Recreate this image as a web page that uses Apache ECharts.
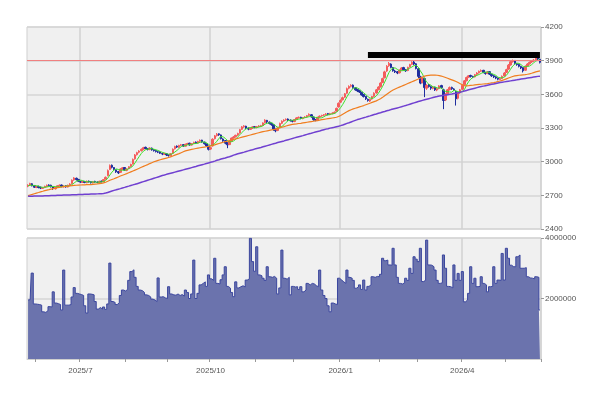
<!DOCTYPE html>
<html>
<head>
<meta charset="utf-8">
<script src="https://cdn.jsdelivr.net/npm/echarts@6/dist/echarts.min.js"></script>
<style>
  html, body { margin: 0; padding: 0; background: #fff; }
  #chart { width: 600px; height: 401px; }
</style>
</head>
<body>
<div id="chart"></div>
<script>
// trading calendar (Tokyo market days)
var firstDay = '2025-05-27';
var lastDay = '2026-05-28';
var holidays = ['2025-07-21', '2025-08-11', '2025-09-15', '2025-09-23', '2025-10-13',
  '2025-11-03', '2025-11-24', '2025-12-31', '2026-01-01', '2026-01-02', '2026-01-12',
  '2026-02-11', '2026-02-23', '2026-03-20', '2026-04-29', '2026-05-04', '2026-05-05', '2026-05-06'];

var dates = [];
for (var t = Date.parse(firstDay); t <= Date.parse(lastDay); t += 86400000) {
  var d = new Date(t);
  var iso = d.toISOString().slice(0, 10);
  if (d.getUTCDay() === 0 || d.getUTCDay() === 6 || holidays.indexOf(iso) >= 0) continue;
  dates.push(d.getUTCFullYear() + '/' + (d.getUTCMonth() + 1) + '/' + d.getUTCDate());
}

// daily candles: [open, close, low, high]
var ohlc = [
  [2782,2790,2772,2798],[2790,2805,2785,2812],[2803,2785,2780,2808],[2788,2772,2766,2792],[2770,2778,2764,2784],
  [2780,2770,2762,2786],[2772,2765,2756,2778],[2762,2768,2758,2775],[2770,2780,2764,2786],[2778,2790,2772,2796],
  // 10
  [2792,2788,2780,2798],[2790,2775,2770,2795],[2776,2760,2748,2780],[2758,2772,2752,2778],[2774,2785,2768,2790],
  [2786,2790,2779,2797],[2792,2778,2772,2796],[2776,2782,2770,2789],[2785,2775,2768,2790],[2774,2790,2770,2795],
  // 20
  [2792,2800,2785,2808],[2805,2835,2800,2842],[2838,2855,2830,2862],[2852,2840,2832,2858],[2842,2825,2818,2846],
  [2822,2818,2810,2830],[2815,2822,2810,2828],[2824,2815,2808,2828],[2812,2825,2808,2832],[2826,2820,2814,2832],
  // 30
  [2822,2812,2805,2826],[2810,2822,2806,2828],[2824,2818,2812,2830],[2816,2815,2808,2824],[2814,2825,2810,2830],
  [2826,2822,2815,2832],[2820,2840,2817,2845],[2845,2860,2840,2868],[2875,2920,2870,2930],[2930,2965,2925,2975],
  // 40
  [2968,2950,2940,2975],[2948,2930,2922,2952],[2928,2910,2900,2932],[2912,2900,2890,2918],[2905,2935,2900,2942],
  [2932,2945,2926,2952],[2948,2925,2918,2950],[2922,2935,2915,2940],[2938,2955,2932,2960],[2958,2975,2950,2982],
  // 50
  [2980,3020,2975,3028],[3025,3060,3018,3068],[3062,3080,3055,3088],[3085,3095,3075,3102],[3098,3110,3090,3118],
  [3112,3125,3105,3132],[3128,3118,3110,3134],[3116,3110,3100,3122],[3108,3122,3102,3128],[3120,3105,3098,3126],
  // 60
  [3106,3098,3090,3112],[3100,3090,3082,3105],[3088,3085,3076,3095],[3086,3075,3068,3092],[3072,3068,3058,3080],
  [3066,3072,3060,3078],[3070,3060,3050,3076],[3058,3055,3045,3064],[3052,3070,3048,3076],[3075,3110,3070,3118],
  // 70
  [3115,3135,3108,3142],[3138,3130,3122,3145],[3128,3145,3122,3150],[3146,3150,3138,3158],[3152,3140,3132,3156],
  [3138,3155,3135,3160],[3156,3162,3148,3168],[3165,3150,3142,3168],[3148,3160,3144,3166],[3162,3172,3156,3178],
  // 80
  [3174,3165,3158,3180],[3166,3180,3160,3186],[3182,3190,3175,3198],[3192,3175,3168,3195],[3174,3160,3152,3178],
  [3158,3140,3132,3162],[3138,3110,3100,3142],[3112,3125,3105,3132],[3140,3200,3135,3208],[3205,3230,3198,3238],
  // 90
  [3232,3245,3225,3255],[3248,3240,3230,3252],[3238,3205,3198,3242],[3202,3185,3178,3208],[3188,3165,3155,3190],
  [3168,3150,3120,3172],[3152,3180,3148,3186],[3182,3210,3176,3215],[3212,3220,3205,3228],[3222,3235,3215,3240],
  // 100
  [3238,3250,3230,3258],[3255,3285,3250,3292],[3288,3310,3282,3318],[3312,3318,3302,3325],[3316,3300,3292,3320],
  [3298,3290,3280,3305],[3288,3298,3282,3305],[3300,3310,3292,3316],[3312,3305,3298,3318],[3304,3312,3298,3318],
  // 110
  [3314,3318,3306,3325],[3316,3320,3310,3328],[3322,3345,3318,3350],[3348,3370,3340,3378],[3368,3355,3345,3372],
  [3352,3340,3332,3358],[3342,3330,3320,3346],[3328,3290,3275,3332],[3288,3275,3262,3295],[3278,3300,3272,3306],
  // 120
  [3305,3340,3300,3348],[3342,3360,3335,3368],[3362,3370,3355,3378],[3372,3378,3365,3385],[3380,3372,3362,3385],
  [3370,3365,3358,3376],[3362,3360,3350,3370],[3358,3375,3352,3380],[3378,3390,3372,3396],[3392,3395,3385,3402],
  // 130
  [3396,3385,3378,3400],[3384,3392,3378,3398],[3395,3398,3388,3405],[3400,3410,3394,3416],[3412,3422,3405,3430],
  [3418,3400,3392,3424],[3398,3375,3365,3402],[3372,3370,3360,3380],[3372,3395,3368,3400],[3398,3405,3390,3412],
  // 140
  [3408,3412,3400,3418],[3414,3418,3406,3424],[3420,3425,3412,3432],[3428,3422,3414,3434],[3420,3428,3414,3435],
  [3430,3432,3422,3440],[3435,3440,3426,3448],[3450,3475,3445,3482],[3488,3520,3482,3528],[3530,3545,3522,3555],
  // 150
  [3552,3570,3545,3580],[3575,3605,3568,3612],[3610,3650,3605,3660],[3655,3670,3645,3680],[3672,3680,3662,3690],
  [3682,3660,3650,3688],[3658,3640,3632,3665],[3642,3630,3620,3648],[3632,3620,3612,3638],[3618,3595,3588,3622],
  // 160
  [3598,3580,3572,3604],[3582,3560,3550,3586],[3556,3545,3535,3562],[3540,3555,3532,3562],[3558,3580,3552,3586],
  [3582,3610,3576,3618],[3612,3640,3606,3648],[3642,3665,3636,3672],[3668,3700,3660,3708],[3705,3740,3700,3748],
  // 170
  [3748,3800,3742,3810],[3808,3850,3800,3860],[3855,3875,3845,3888],[3870,3840,3832,3876],[3838,3810,3802,3844],
  [3808,3800,3790,3818],[3802,3790,3780,3808],[3792,3815,3786,3822],[3818,3835,3810,3842],[3838,3820,3812,3845],
  // 180
  [3818,3810,3800,3826],[3812,3840,3806,3846],[3845,3865,3840,3872],[3868,3885,3860,3895],[3888,3870,3860,3898],
  [3872,3830,3822,3878],[3828,3760,3745,3834],[3755,3700,3690,3765],[3705,3745,3698,3752],[3740,3660,3575,3748],
  // 190
  [3655,3680,3640,3690],[3682,3670,3660,3692],[3668,3655,3640,3678],[3652,3665,3645,3675],[3662,3640,3630,3668],
  [3638,3650,3628,3660],[3652,3675,3645,3682],[3678,3660,3650,3685],[3640,3545,3468,3650],[3550,3600,3540,3610],
  // 200
  [3605,3640,3598,3648],[3642,3660,3635,3670],[3662,3650,3640,3668],[3648,3640,3628,3655],[3625,3560,3500,3632],
  [3565,3610,3555,3618],[3612,3640,3605,3648],[3645,3680,3638,3688],[3685,3720,3678,3728],[3722,3750,3715,3758],
  // 210
  [3752,3765,3745,3772],[3768,3760,3750,3775],[3758,3755,3745,3766],[3756,3775,3750,3782],[3778,3790,3770,3798],
  [3792,3805,3785,3812],[3806,3812,3798,3822],[3814,3795,3788,3818],[3792,3785,3775,3800],[3786,3800,3780,3808],
  // 220
  [3802,3780,3772,3806],[3778,3765,3755,3784],[3766,3755,3745,3772],[3756,3745,3735,3762],[3744,3735,3725,3750],
  [3732,3740,3726,3748],[3742,3760,3736,3768],[3764,3790,3758,3798],[3795,3820,3790,3828],[3825,3860,3818,3870],
  // 230
  [3862,3890,3855,3900],[3892,3900,3882,3910],[3902,3875,3865,3906],[3872,3865,3855,3880],[3866,3850,3840,3872],
  [3848,3835,3825,3855],[3838,3810,3795,3842],[3815,3850,3810,3858],[3852,3870,3846,3878],[3872,3885,3865,3892],
  // 240
  [3888,3895,3880,3905],[3898,3905,3890,3915],[3908,3925,3900,3935],[3928,3915,3905,3935],[3912,3885,3875,3918]
];

// moving averages
var ma5 = [
  2785,2790,2790,2787,2786,2782,2774,2771,2772,2775,
  2778,2780,2779,2777,2776,2776,2777,2781,2782,2783,
  2785,2796,2811,2824,2831,2835,2832,2824,2821,2820,
  2819,2819,2819,2817,2818,2820,2824,2832,2853,2881,
  2907,2925,2935,2931,2925,2924,2923,2928,2939,2947,
  2962,2989,3018,3046,3073,3094,3106,3112,3117,3116,
  3111,3105,3100,3091,3083,3078,3072,3066,3065,3073,
  3086,3100,3118,3134,3140,3144,3150,3151,3153,3160,
  3162,3165,3173,3176,3174,3169,3155,3142,3147,3161,
  3182,3208,3224,3221,3208,3189,3177,3178,3185,3199,
  3223,3240,3260,3280,3293,3301,3304,3303,3301,3303,
  3309,3313,3320,3335,3342,3346,3348,3337,3318,3307,
  3307,3313,3329,3350,3366,3369,3369,3370,3374,3379,
  3383,3389,3392,3396,3401,3402,3399,3393,3392,3389,
  3391,3400,3411,3416,3421,3425,3429,3439,3459,3482,
  3510,3543,3578,3608,3635,3653,3660,3656,3646,3629,
  3613,3597,3580,3567,3564,3570,3586,3610,3639,3671,
  3709,3751,3793,3821,3835,3835,3823,3811,3810,3812,
  3814,3824,3834,3844,3856,3858,3842,3809,3781,3739,
  3709,3691,3682,3666,3666,3657,3657,3658,3636,3626,
  3624,3621,3619,3638,3630,3624,3620,3626,3642,3682,
  3713,3735,3750,3761,3769,3777,3787,3795,3797,3799,
  3794,3785,3777,3769,3752,3748,3747,3754,3769,3794,
  3824,3852,3869,3878,3876,3865,3847,3846,3849,3852,
  3864,3881,3896,3905,3905
];

var ma25 = [
  2697,2703,2708,2714,2720,2725,2731,2736,2742,2747,
  2751,2756,2760,2764,2768,2771,2774,2777,2779,2782,
  2784,2786,2788,2790,2791,2792,2793,2794,2795,2795,
  2796,2798,2800,2802,2805,2807,2811,2817,2825,2834,
  2841,2848,2856,2864,2872,2879,2886,2893,2901,2909,
  2917,2925,2933,2941,2950,2958,2966,2974,2983,2991,
  2999,3005,3011,3017,3022,3027,3032,3037,3042,3050,
  3058,3065,3072,3080,3088,3096,3101,3105,3109,3113,
  3117,3121,3124,3127,3130,3133,3136,3140,3144,3150,
  3156,3162,3168,3173,3178,3182,3187,3193,3198,3203,
  3208,3213,3218,3223,3228,3233,3238,3243,3248,3253,
  3258,3263,3267,3271,3275,3279,3283,3286,3290,3295,
  3301,3307,3312,3318,3323,3328,3332,3335,3337,3340,
  3342,3345,3348,3351,3354,3357,3360,3363,3366,3370,
  3374,3377,3380,3383,3386,3389,3392,3396,3402,3412,
  3423,3434,3445,3455,3463,3470,3476,3482,3488,3494,
  3500,3507,3514,3521,3528,3535,3542,3551,3561,3573,
  3587,3601,3615,3628,3638,3647,3656,3664,3672,3680,
  3688,3696,3704,3712,3720,3728,3736,3745,3754,3762,
  3766,3769,3771,3772,3772,3770,3767,3763,3757,3750,
  3743,3736,3729,3722,3714,3705,3695,3685,3678,3676,
  3677,3679,3681,3684,3686,3688,3690,3692,3694,3696,
  3699,3702,3705,3709,3714,3719,3725,3731,3738,3745,
  3752,3759,3764,3767,3770,3772,3774,3776,3779,3783,
  3788,3794,3800,3805,3809
];

var ma75 = [
  2691,2692,2692,2693,2693,2694,2694,2695,2696,2696,
  2697,2698,2698,2699,2700,2701,2701,2702,2703,2704,
  2704,2705,2706,2706,2707,2708,2708,2709,2710,2710,
  2711,2712,2712,2713,2714,2715,2716,2720,2726,2732,
  2738,2744,2749,2755,2760,2766,2771,2777,2782,2788,
  2793,2798,2804,2810,2816,2822,2828,2834,2840,2846,
  2852,2858,2864,2870,2876,2881,2887,2892,2897,2902,
  2907,2912,2917,2922,2927,2932,2937,2942,2947,2952,
  2957,2963,2968,2973,2978,2984,2989,2994,2999,3005,
  3012,3017,3023,3028,3033,3039,3044,3050,3058,3064,
  3070,3075,3080,3085,3091,3096,3101,3106,3112,3117,
  3122,3127,3133,3138,3143,3148,3154,3159,3164,3170,
  3175,3180,3185,3191,3196,3201,3206,3212,3217,3222,
  3227,3232,3238,3243,3248,3253,3259,3264,3269,3274,
  3280,3285,3290,3294,3299,3303,3307,3312,3316,3321,
  3327,3334,3341,3347,3354,3361,3368,3375,3380,3386,
  3392,3397,3403,3408,3414,3420,3425,3431,3436,3442,
  3447,3453,3458,3464,3469,3474,3479,3484,3489,3495,
  3500,3506,3512,3518,3524,3530,3536,3541,3546,3551,
  3556,3561,3566,3571,3576,3580,3585,3588,3591,3594,
  3597,3600,3603,3607,3610,3614,3619,3624,3630,3635,
  3640,3645,3650,3655,3660,3665,3669,3673,3677,3681,
  3685,3689,3693,3697,3701,3705,3708,3711,3714,3717,
  3720,3723,3726,3729,3733,3736,3739,3742,3745,3748,
  3751,3754,3757,3760,3762
];

var volume = [
  1950000,1960000,2840000,1820000,1810000,1800000,1780000,1560000,1540000,1600000,
  1730000,1720000,2220000,1850000,1830000,1800000,1620000,2940000,1780000,1780000,
  1800000,2050000,2360000,2170000,2150000,2130000,2100000,1760000,1520000,2150000,
  2140000,2120000,1900000,1650000,1700000,1650000,1720000,1640000,1820000,3170000,
  1900000,1870000,1800000,1860000,2100000,2280000,2250000,2300000,2600000,2890000,
  2950000,2700000,2400000,2280000,2260000,2200000,2120000,2100000,2050000,1980000,
  1950000,1900000,2680000,2050000,2060000,2020000,2000000,2390000,2150000,2120000,
  2110000,2150000,2100000,2130000,2080000,2280000,2200000,2000000,2150000,3270000,
  2000000,2170000,2450000,2500000,2550000,2400000,2780000,2650000,2600000,3330000,
  2500000,2480000,2620000,2780000,3050000,2400000,2340000,2200000,2060000,2550000,
  2350000,2390000,2420000,2380000,2610000,2650000,3990000,3220000,2900000,3710000,
  2780000,2750000,2670000,2600000,3050000,2720000,2700000,2730000,2670000,2150000,
  2350000,3600000,2670000,2640000,2700000,2120000,2400000,2380000,2390000,2300000,
  2390000,2220000,2280000,2500000,2450000,2500000,2480000,2420000,2390000,2940000,
  2280000,2100000,2000000,1760000,1560000,1850000,1820000,1800000,2670000,2610000,
  2550000,2500000,2940000,2700000,2670000,2600000,2340000,2380000,2450000,2300000,
  2610000,2280000,2400000,2450000,2720000,2700000,2730000,2720000,2800000,3330000,
  3250000,3270000,3110000,3100000,3660000,3110000,2700000,2500000,2480000,2520000,
  2670000,2600000,3000000,2830000,3380000,3300000,3220000,3660000,2560000,2600000,
  3930000,3110000,3100000,3050000,2940000,2600000,2500000,2520000,3440000,3000000,
  2400000,2390000,2350000,3110000,2600000,2830000,2600000,2890000,1890000,1950000,
  2170000,3050000,2500000,2670000,2390000,2400000,2720000,2500000,2450000,2220000,
  2390000,2400000,3050000,2500000,2610000,2600000,3490000,2610000,3660000,3330000,
  3100000,3050000,3050000,3380000,3440000,3000000,3000000,3020000,2720000,2680000,
  2670000,2650000,2720000,2700000,1620000
];

var priceMin = 2400, priceMax = 4200, priceStep = 300;
var volMax = 4000000, volStep = 2000000;
var resistanceLevel = 3905;
var highBandLevel = 3950;
var highBandStart = '2026/1/23';
var quarterMonths = ['1', '4', '7', '10'];

function monthOf(i) { return dates[i].split('/')[1]; }
function isMonthStart(i) { return i > 0 && monthOf(i) !== monthOf(i - 1); }
function isQuarterStart(i) { return isMonthStart(i) && quarterMonths.indexOf(monthOf(i)) >= 0; }

// plain numbers on the value axes, no thousands separators
function plain(v) { return String(v); }
var labelFont = { fontSize: 8, color: '#555', fontFamily: 'Liberation Sans' };

var chart = echarts.init(document.getElementById('chart'));
chart.setOption({
  animation: false,
  grid: [
    { left: 27, right: 59, top: 27, height: 202, show: true, backgroundColor: '#f0f0f0', borderColor: '#cfcfcf', borderWidth: 1 },
    { left: 27, right: 59, top: 238, height: 121, show: true, backgroundColor: '#f0f0f0', borderColor: '#cfcfcf', borderWidth: 1 }
  ],
  xAxis: [
    {
      type: 'category', gridIndex: 0, data: dates,
      axisLine: { show: false }, axisTick: { show: false }, axisLabel: { show: false },
      splitLine: { show: true, interval: isQuarterStart, lineStyle: { color: '#d2d2d2', width: 1.5 } }
    },
    {
      type: 'category', gridIndex: 1, data: dates,
      axisLine: { show: true, lineStyle: { color: '#cfcfcf' } },
      axisTick: { show: true, interval: isMonthStart, length: 3, lineStyle: { color: '#999' } },
      axisLabel: Object.assign({
        interval: isQuarterStart, margin: 8,
        formatter: function (v) { return v.split('/').slice(0, 2).join('/'); }
      }, labelFont),
      splitLine: { show: true, interval: isQuarterStart, lineStyle: { color: '#d2d2d2', width: 1.5 } }
    }
  ],
  yAxis: [
    {
      type: 'value', gridIndex: 0, position: 'right',
      min: priceMin, max: priceMax, interval: priceStep,
      axisLine: { show: false },
      axisTick: { show: true, length: 3, lineStyle: { color: '#999' } },
      axisLabel: Object.assign({ margin: 4, formatter: plain }, labelFont),
      splitLine: { lineStyle: { color: '#d6d6d6', width: 1.5 } }
    },
    {
      type: 'value', gridIndex: 1, position: 'right',
      min: 0, max: volMax, interval: volStep,
      axisLine: { show: false },
      axisTick: { show: true, length: 3, lineStyle: { color: '#999' } },
      axisLabel: Object.assign({ margin: 4, showMinLabel: false, formatter: plain }, labelFont),
      splitLine: { lineStyle: { color: '#d6d6d6', width: 1.5 } }
    }
  ],
  series: [
    {
      name: 'price', type: 'candlestick', xAxisIndex: 0, yAxisIndex: 0,
      data: ohlc, barWidth: 2,
      itemStyle: { color: '#f45c5c', color0: '#1f2e9e', borderColor: '#f45c5c', borderColor0: '#1f2e9e', borderWidth: 1 },
      markLine: {
        silent: true, symbol: 'none', label: { show: false },
        data: [
          { yAxis: resistanceLevel, lineStyle: { color: '#f08080', width: 1, type: 'solid' } },
          [
            { coord: [highBandStart, highBandLevel], lineStyle: { color: '#000', width: 6, type: 'solid' } },
            { coord: [dates[dates.length - 1], highBandLevel] }
          ]
        ]
      }
    },
    {
      name: 'MA5', type: 'line', xAxisIndex: 0, yAxisIndex: 0, data: ma5,
      symbol: 'none', lineStyle: { color: '#3ee02a', width: 1 }
    },
    {
      name: 'MA25', type: 'line', xAxisIndex: 0, yAxisIndex: 0, data: ma25,
      symbol: 'none', lineStyle: { color: '#f07d1e', width: 1.2 }
    },
    {
      name: 'MA75', type: 'line', xAxisIndex: 0, yAxisIndex: 0, data: ma75,
      symbol: 'none', lineStyle: { color: '#7040d0', width: 1.5 }
    },
    {
      name: 'volume', type: 'line', xAxisIndex: 1, yAxisIndex: 1, data: volume,
      step: 'middle', symbol: 'none',
      lineStyle: { color: '#3b469e', width: 1 },
      areaStyle: { color: '#6b73ad', opacity: 1 }
    }
  ]
});
</script>
</body>
</html>
